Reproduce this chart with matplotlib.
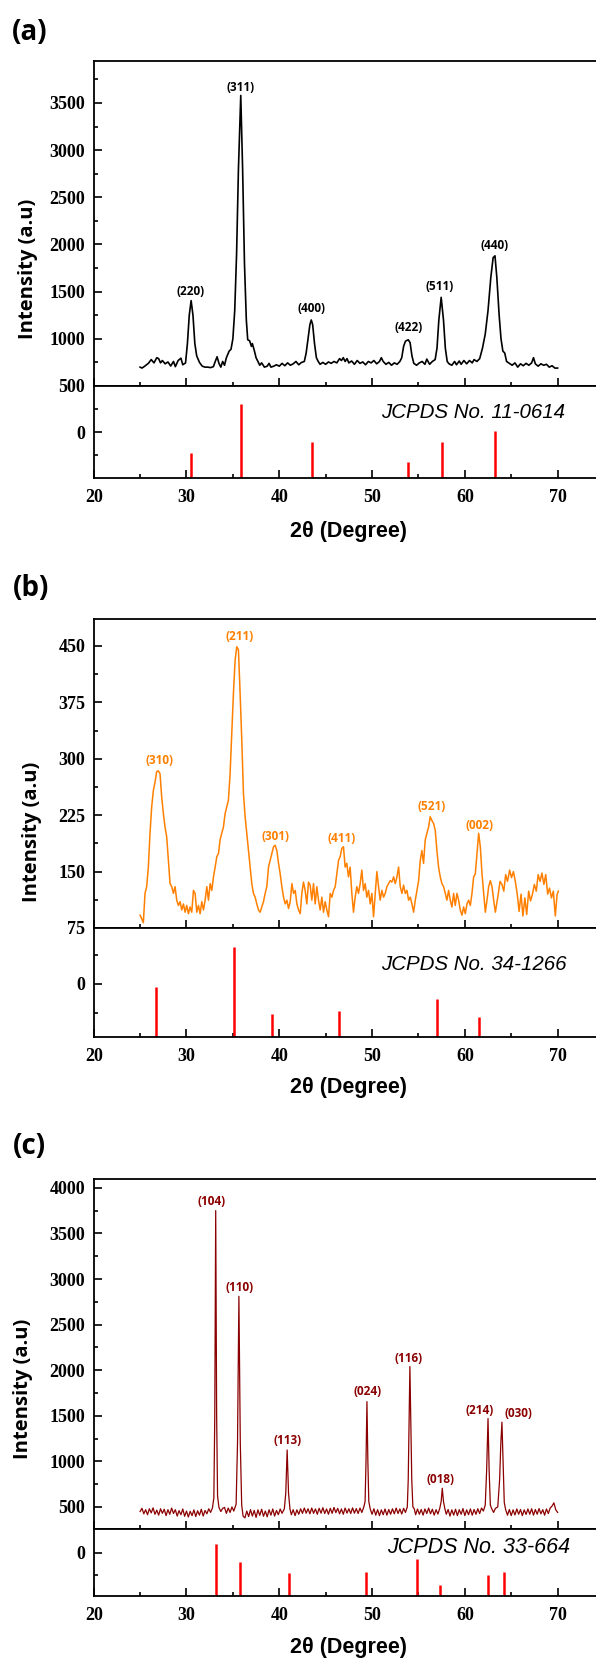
"""
XRD patterns (a)-(c) with JCPDS reference sticks
Run: python plot.py
"""
import matplotlib
matplotlib.use('Agg')
import matplotlib.pyplot as plt
from matplotlib.ticker import MultipleLocator, FixedLocator

plt.rcParams['font.family'] = 'Liberation Serif'
plt.rcParams['font.weight'] = 'bold'

# ── Panel (a) ────────────────────────────────────────────────────────────────
two_theta_a = [
    25.0, 25.2, 25.5, 25.9, 26.2, 26.5, 26.8, 27.0, 27.2, 27.4, 27.7, 28.0,
    28.3, 28.6, 28.8, 29.1, 29.4, 29.6, 29.9, 30.1, 30.3, 30.5, 30.7, 30.9,
    31.1, 31.4, 31.7, 32.0, 32.3, 32.6, 32.9, 33.1, 33.3, 33.5, 33.7, 33.9,
    34.1, 34.3, 34.6, 34.8, 35.0, 35.2, 35.4, 35.6, 35.85, 36.05, 36.25, 36.45,
    36.6, 36.8, 37.0, 37.1, 37.3, 37.5, 37.7, 37.9, 38.1, 38.4, 38.7, 38.9,
    39.1, 39.4, 39.7, 40.0, 40.3, 40.6, 40.9, 41.2, 41.5, 41.8, 42.1, 42.4,
    42.7, 42.9, 43.1, 43.3, 43.45, 43.6, 43.8, 44.0, 44.2, 44.4, 44.7, 45.0,
    45.3, 45.6, 45.9, 46.2, 46.5, 46.7, 46.9, 47.1, 47.3, 47.5, 47.8, 48.1,
    48.4, 48.7, 49.0, 49.3, 49.6, 49.9, 50.2, 50.5, 50.8, 51.0, 51.2, 51.5,
    51.8, 52.1, 52.4, 52.7, 53.0, 53.2, 53.4, 53.6, 53.9, 54.1, 54.3, 54.5,
    54.8, 55.1, 55.4, 55.7, 55.9, 56.2, 56.5, 56.8, 57.0, 57.2, 57.45, 57.7,
    57.9, 58.1, 58.3, 58.6, 58.9, 59.1, 59.4, 59.6, 59.9, 60.2, 60.5, 60.8,
    61.0, 61.3, 61.6, 61.9, 62.2, 62.5, 62.8, 63.05, 63.25, 63.45, 63.7, 63.9,
    64.1, 64.3, 64.5, 64.8, 65.1, 65.4, 65.7, 66.0, 66.3, 66.6, 66.9, 67.2,
    67.4, 67.6, 67.9, 68.2, 68.5, 68.8, 69.1, 69.4, 69.7, 70.0,
]
intensity_a = [
    700, 690, 710, 741, 780, 745, 800, 790, 745, 770, 735, 755,
    712, 760, 705, 770, 795, 725, 745, 950, 1250, 1405, 1250, 950,
    820, 750, 710, 700, 700, 695, 705, 760, 810, 740, 700, 760,
    720, 800, 870, 890, 1000, 1300, 1900, 2800, 3580, 2800, 1800, 1200,
    990, 980, 920, 950, 880, 800, 760, 720, 745, 700, 710, 740,
    700, 710, 725, 710, 740, 715, 745, 720, 735, 760, 725, 750,
    760, 850, 1000, 1150, 1200, 1150, 950, 800, 760, 730, 750, 730,
    755, 740, 760, 745, 790, 770, 800, 760, 790, 745, 765, 730,
    770, 740, 755, 725, 760, 745, 770, 735, 760, 800, 760, 730,
    750, 720, 745, 730, 760, 800, 920, 975, 990, 960, 820, 740,
    720, 745, 760, 730, 785, 730, 760, 780, 900, 1200, 1440, 1200,
    900, 760, 735, 720, 760, 725, 765, 730, 770, 735, 770, 745,
    780, 760, 790, 900, 1050, 1300, 1650, 1860, 1880, 1650, 1250, 1000,
    870, 850, 760, 740, 720, 745, 700, 735, 715, 740, 720, 745,
    800, 735, 710, 735, 720, 730, 700, 715, 690, 690,
]
peak_labels_a = ['(220)', '(311)', '(400)', '(422)', '(511)', '(440)']
peak_label_x_a = [30.4, 35.85, 43.45, 53.95, 57.3, 63.2]
peak_label_y_a = [1500, 3660, 1325, 1115, 1555, 1990]
ref_pos_a = [30.52, 35.9, 43.5, 53.88, 57.57, 63.24]
ref_top_a = [-45, 60, -22, -64, -22, 3]
card_a = 'JCPDS No. 11-0614'

# ── Panel (b) ────────────────────────────────────────────────────────────────
two_theta_b = [
    25.0, 25.15, 25.35, 25.53, 25.71, 25.89, 26.07, 26.25, 26.43, 26.61, 26.79, 26.97,
    27.15, 27.33, 27.51, 27.69, 27.87, 28.05, 28.23, 28.41, 28.59, 28.77, 28.95, 29.13,
    29.31, 29.49, 29.67, 29.85, 30.03, 30.21, 30.39, 30.57, 30.75, 30.93, 31.11, 31.29,
    31.47, 31.65, 31.83, 32.01, 32.19, 32.37, 32.55, 32.73, 32.91, 33.09, 33.27, 33.45,
    33.62, 33.80, 33.98, 34.16, 34.34, 34.52, 34.70, 34.88, 35.06, 35.24, 35.42, 35.60,
    35.78, 35.96, 36.14, 36.32, 36.50, 36.68, 36.86, 37.04, 37.22, 37.40, 37.58, 37.76,
    37.94, 38.12, 38.30, 38.48, 38.66, 38.84, 39.02, 39.20, 39.38, 39.56, 39.74, 39.92,
    40.10, 40.28, 40.46, 40.64, 40.82, 41.00, 41.18, 41.36, 41.54, 41.72, 41.90, 42.08,
    42.26, 42.43, 42.61, 42.79, 42.97, 43.15, 43.33, 43.51, 43.69, 43.87, 44.05, 44.23,
    44.41, 44.59, 44.77, 44.95, 45.13, 45.31, 45.49, 45.67, 45.85, 46.03, 46.21, 46.39,
    46.57, 46.74, 46.92, 47.10, 47.28, 47.46, 47.64, 47.82, 48.00, 48.18, 48.36, 48.54,
    48.72, 48.90, 49.08, 49.26, 49.44, 49.62, 49.80, 49.98, 50.16, 50.34, 50.52, 50.70,
    50.88, 51.06, 51.24, 51.42, 51.60, 51.78, 51.96, 52.14, 52.32, 52.50, 52.68, 52.86,
    53.04, 53.22, 53.40, 53.58, 53.76, 53.94, 54.12, 54.30, 54.48, 54.66, 54.84, 55.02,
    55.20, 55.37, 55.55, 55.73, 55.91, 56.09, 56.27, 56.45, 56.63, 56.81, 56.99, 57.17,
    57.35, 57.53, 57.71, 57.89, 58.07, 58.25, 58.43, 58.61, 58.79, 58.97, 59.15, 59.33,
    59.51, 59.69, 59.87, 60.05, 60.23, 60.41, 60.59, 60.77, 60.95, 61.13, 61.31, 61.49,
    61.67, 61.85, 62.03, 62.21, 62.39, 62.57, 62.75, 62.93, 63.11, 63.29, 63.6, 63.8,
    64.0, 64.2, 64.4, 64.6, 64.83, 65.03, 65.24, 65.44, 65.65, 65.85, 66.06, 66.26,
    66.47, 66.67, 66.88, 67.08, 67.29, 67.49, 67.70, 67.9, 68.11, 68.31, 68.52, 68.72,
    68.93, 69.13, 69.34, 69.54, 69.75, 69.95, 70.08,
]
intensity_b = [
    92, 88, 82, 121, 130, 156, 201, 236, 258, 269, 283, 284,
    280, 249, 227, 209, 196, 165, 134, 130, 121, 130, 112, 105,
    110, 99, 107, 96, 105, 94, 103, 96, 125, 121, 96, 105,
    94, 110, 99, 112, 130, 112, 134, 125, 143, 156, 170, 174,
    192, 201, 209, 227, 236, 245, 280, 334, 387, 431, 449, 445,
    387, 325, 254, 223, 201, 178, 156, 134, 121, 116, 107, 99,
    96, 103, 110, 121, 130, 156, 165, 174, 183, 185, 178, 161,
    147, 130, 116, 107, 112, 101, 110, 134, 121, 125, 107, 99,
    94, 121, 136, 125, 107, 136, 132, 112, 134, 107, 130, 112,
    99, 116, 96, 110, 99, 90, 121, 116, 125, 130, 147, 165,
    170, 181, 183, 156, 161, 143, 156, 121, 96, 116, 130, 121,
    134, 152, 125, 134, 116, 125, 107, 121, 90, 121, 150, 130,
    112, 125, 116, 121, 130, 134, 138, 136, 143, 134, 143, 156,
    130, 121, 132, 121, 125, 112, 116, 107, 96, 112, 125, 138,
    165, 178, 161, 192, 201, 209, 223, 218, 214, 205, 178, 156,
    143, 134, 130, 121, 112, 125, 112, 103, 121, 105, 121, 112,
    99, 92, 103, 94, 107, 112, 105, 121, 143, 147, 174, 201,
    183, 147, 121, 96, 112, 130, 138, 130, 112, 96, 120, 137,
    133, 124, 146, 137, 152, 142, 150, 137, 120, 97, 120, 91,
    115, 93, 124, 111, 120, 133, 124, 146, 137, 148, 133, 146,
    120, 128, 115, 124, 91, 120, 124,
]
peak_labels_b = ['(310)', '(211)', '(301)', '(411)', '(521)', '(002)']
peak_label_x_b = [27.1, 35.7, 39.6, 46.75, 56.4, 61.55]
peak_label_y_b = [298, 462, 197, 194, 236, 211]
ref_pos_b = [26.74, 35.15, 39.25, 46.43, 56.96, 61.55]
ref_top_b = [-6, 65, -53, -47, -27, -58]
card_b = 'JCPDS No. 34-1266'

# ── Panel (c) ────────────────────────────────────────────────────────────────
two_theta_c = [
    25.0, 25.2, 25.4, 25.6, 25.8, 26.0, 26.2, 26.4, 26.6, 26.8, 27.0, 27.2,
    27.4, 27.6, 27.8, 28.0, 28.2, 28.4, 28.6, 28.8, 29.0, 29.2, 29.4, 29.6,
    29.8, 30.0, 30.2, 30.4, 30.6, 30.8, 31.0, 31.2, 31.4, 31.6, 31.8, 32.0,
    32.2, 32.4, 32.6, 32.8, 32.95, 33.05, 33.15, 33.25, 33.35, 33.5, 33.7, 33.9,
    34.1, 34.3, 34.5, 34.7, 34.9, 35.1, 35.35, 35.5, 35.65, 35.8, 35.95, 36.1,
    36.3, 36.5, 36.7, 36.9, 37.1, 37.3, 37.5, 37.7, 37.9, 38.1, 38.3, 38.5,
    38.7, 38.9, 39.1, 39.3, 39.5, 39.7, 39.9, 40.1, 40.3, 40.55, 40.7, 40.85,
    41.0, 41.15, 41.3, 41.5, 41.7, 41.9, 42.1, 42.3, 42.5, 42.7, 42.9, 43.1,
    43.3, 43.5, 43.7, 43.9, 44.1, 44.3, 44.5, 44.7, 44.9, 45.1, 45.3, 45.5,
    45.7, 45.9, 46.1, 46.3, 46.5, 46.7, 46.9, 47.1, 47.3, 47.5, 47.7, 47.9,
    48.1, 48.3, 48.5, 48.7, 48.9, 49.1, 49.25, 49.35, 49.45, 49.55, 49.65, 49.8,
    50.0, 50.2, 50.4, 50.6, 50.8, 51.0, 51.2, 51.4, 51.6, 51.8, 52.0, 52.2,
    52.4, 52.6, 52.8, 53.0, 53.2, 53.4, 53.6, 53.8, 53.9, 54.0, 54.08, 54.17,
    54.28, 54.4, 54.55, 54.7, 54.9, 55.1, 55.3, 55.5, 55.7, 55.9, 56.1, 56.3,
    56.5, 56.7, 56.9, 57.1, 57.3, 57.45, 57.57, 57.7, 57.85, 58.0, 58.2, 58.4,
    58.6, 58.8, 59.0, 59.2, 59.4, 59.6, 59.8, 60.0, 60.2, 60.4, 60.6, 60.8,
    61.0, 61.2, 61.4, 61.6, 61.8, 62.0, 62.2, 62.35, 62.5, 62.62, 62.75, 62.9,
    63.1, 63.3, 63.55, 63.75, 63.88, 64.0, 64.12, 64.25, 64.4, 64.6, 64.8, 65.0,
    65.2, 65.4, 65.6, 65.8, 66.0, 66.2, 66.4, 66.6, 66.8, 67.0, 67.2, 67.4,
    67.6, 67.8, 68.0, 68.2, 68.4, 68.6, 68.8, 69.0, 69.2, 69.4, 69.6, 69.8,
    70.0,
]
intensity_c = [
    450, 485, 425, 470, 415, 480, 435, 490, 420, 465, 410, 480,
    430, 475, 405, 470, 420, 488, 428, 470, 400, 460, 415, 478,
    398, 455, 390, 452, 405, 468, 395, 458, 410, 475, 400, 462,
    425, 480, 440, 490, 600, 1500, 3750, 1500, 620, 495, 450, 485,
    495, 430, 488, 440, 500, 455, 530, 1200, 2810, 1200, 520, 400,
    380, 455, 395, 470, 400, 462, 385, 468, 408, 475, 398, 455,
    392, 470, 410, 478, 400, 462, 415, 478, 430, 480, 650, 1125,
    650, 480, 415, 470, 405, 468, 420, 480, 430, 488, 432, 480,
    425, 488, 430, 478, 420, 485, 432, 492, 428, 478, 420, 485,
    430, 495, 438, 485, 425, 478, 420, 488, 432, 480, 428, 490,
    432, 482, 428, 488, 440, 495, 560, 1000, 1655, 1000, 560, 480,
    420, 480, 410, 470, 405, 468, 415, 478, 410, 472, 420, 480,
    425, 488, 428, 478, 422, 485, 440, 500, 800, 1500, 2040, 1500,
    800, 500, 480, 415, 478, 420, 472, 410, 478, 428, 488, 425,
    475, 410, 470, 422, 485, 560, 705, 560, 480, 420, 472, 400,
    468, 410, 475, 405, 470, 420, 482, 405, 468, 415, 478, 410,
    472, 420, 480, 428, 488, 455, 520, 900, 1470, 900, 520, 480,
    440, 485, 500, 800, 1200, 1430, 1000, 550, 470, 410, 472, 405,
    468, 412, 478, 420, 472, 405, 468, 418, 478, 420, 480, 410,
    472, 420, 482, 425, 470, 410, 478, 428, 488, 510, 545, 470,
    440,
]
peak_labels_c = ['(104)', '(110)', '(113)', '(024)', '(116)', '(018)', '(214)', '(030)']
peak_label_x_c = [32.7, 35.7, 40.85, 49.5, 53.9, 57.33, 61.55, 65.74]
peak_label_y_c = [3855, 2905, 1225, 1765, 2130, 805, 1555, 1520]
ref_pos_c = [33.14, 35.76, 41.09, 49.38, 54.83, 57.37, 62.5, 64.22]
ref_top_c = [19, -20, -44, -43, -15, -72, -49, -43]
card_c = 'JCPDS No. 33-664'

# ── Layout (pixel positions in the 596 x 1659 canvas) ────────────────────────
W, H = 596, 1659
LEFT_PX, RIGHT_PX = 93.7, 604.0

panels = [
    dict(tag='(a)', x=two_theta_a, y=intensity_a, color='black', lw=1.2,
         ylim=(500, 3945), ymaj=500, ymin=250,
         labels=peak_labels_a, lx=peak_label_x_a, ly=peak_label_y_a, lcolor='black',
         ref_x=ref_pos_a, ref_h=ref_top_a, ref_ylim=(-99, 100), ref_minor=[-50, 50],
         card=card_a, card_xy=(70.8, 42), card_size=14.8,
         px=(61, 386, 478), tag_xy=(30, 33), ylab_xy=(28.5, 269), xlab_y=531),
    dict(tag='(b)', x=two_theta_b, y=intensity_b, color='#FF8000', lw=1.1,
         ylim=(75, 485.5), ymaj=75, ymin=37.5,
         labels=peak_labels_b, lx=peak_label_x_b, ly=peak_label_y_b, lcolor='#FF8000',
         ref_x=ref_pos_b, ref_h=ref_top_b, ref_ylim=(-92, 97.5), ref_minor=[-50, 50],
         card=card_b, card_xy=(71.0, 34), card_size=14.8,
         px=(619.3, 928, 1036.7), tag_xy=(31, 588), ylab_xy=(32, 832), xlab_y=1088),
    dict(tag='(c)', x=two_theta_c, y=intensity_c, color='#8B0000', lw=0.9,
         ylim=(255, 4100), ymaj=500, ymin=250,
         labels=peak_labels_c, lx=peak_label_x_c, ly=peak_label_y_c, lcolor='#8B0000',
         ref_x=ref_pos_c, ref_h=ref_top_c, ref_ylim=(-95.8, 51.8), ref_minor=[-50],
         card=card_c, card_xy=(71.4, 12.6), card_size=15.5,
         px=(1178.7, 1529.3, 1596), tag_xy=(29, 1147), ylab_xy=(23, 1389), xlab_y=1648),
]

fig = plt.figure(figsize=(W / 100, H / 100), dpi=100)


def box(top_px, bot_px):
    return [LEFT_PX / W, 1 - bot_px / H, (RIGHT_PX - LEFT_PX) / W, (bot_px - top_px) / H]


def style(ax):
    for s in ax.spines.values():
        s.set_linewidth(1.3)
    ax.set_xlim(20, 75)
    ax.xaxis.set_major_locator(MultipleLocator(10))
    ax.xaxis.set_minor_locator(MultipleLocator(5))
    ax.tick_params(which='both', direction='in', top=False, right=False, width=1.2,
                   labelsize=13)
    ax.tick_params(which='major', length=6, pad=6)
    ax.tick_params(which='minor', length=3)


for p in panels:
    top, mid, bot = p['px']

    # main pattern
    ax = fig.add_axes(box(top, mid))
    style(ax)
    ax.plot(p['x'], p['y'], color=p['color'], lw=p['lw'])
    ax.set_ylim(*p['ylim'])
    ax.yaxis.set_major_locator(MultipleLocator(p['ymaj']))
    ax.yaxis.set_minor_locator(MultipleLocator(p['ymin']))
    ax.tick_params(labelbottom=False)
    for lab, xx, yy in zip(p['labels'], p['lx'], p['ly']):
        ax.text(xx, yy, lab, ha='center', va='center', color=p['lcolor'],
                fontsize=8.5, family='Open Sans', weight='bold')

    # reference sticks
    rx = fig.add_axes(box(mid, bot))
    style(rx)
    rx.set_ylim(*p['ref_ylim'])
    rx.vlines(p['ref_x'], p['ref_ylim'][0], p['ref_h'], color='#FF0000', lw=1.8)
    rx.yaxis.set_major_locator(FixedLocator([0]))
    rx.yaxis.set_minor_locator(FixedLocator(p['ref_minor']))
    rx.tick_params(axis='x', pad=8)
    rx.text(p['card_xy'][0], p['card_xy'][1], p['card'], ha='right', va='center',
            fontsize=p['card_size'], family='Liberation Sans', style='italic',
            weight='normal')

    # panel texts
    fig.text(p['tag_xy'][0] / W, 1 - p['tag_xy'][1] / H, p['tag'], ha='center',
             va='center', fontsize=20, family='Open Sans', weight='bold')
    fig.text(p['ylab_xy'][0] / W, 1 - p['ylab_xy'][1] / H, 'Intensity (a.u)',
             rotation=90, ha='center', va='center', fontsize=14.5,
             family='Open Sans', weight='bold')
    fig.text(348 / W, 1 - p['xlab_y'] / H, '2θ (Degree)', ha='center', va='center',
             fontsize=15.5, family='Liberation Sans', weight='bold')

fig.savefig('out.png', dpi=100)
print("Saved → out.png")
